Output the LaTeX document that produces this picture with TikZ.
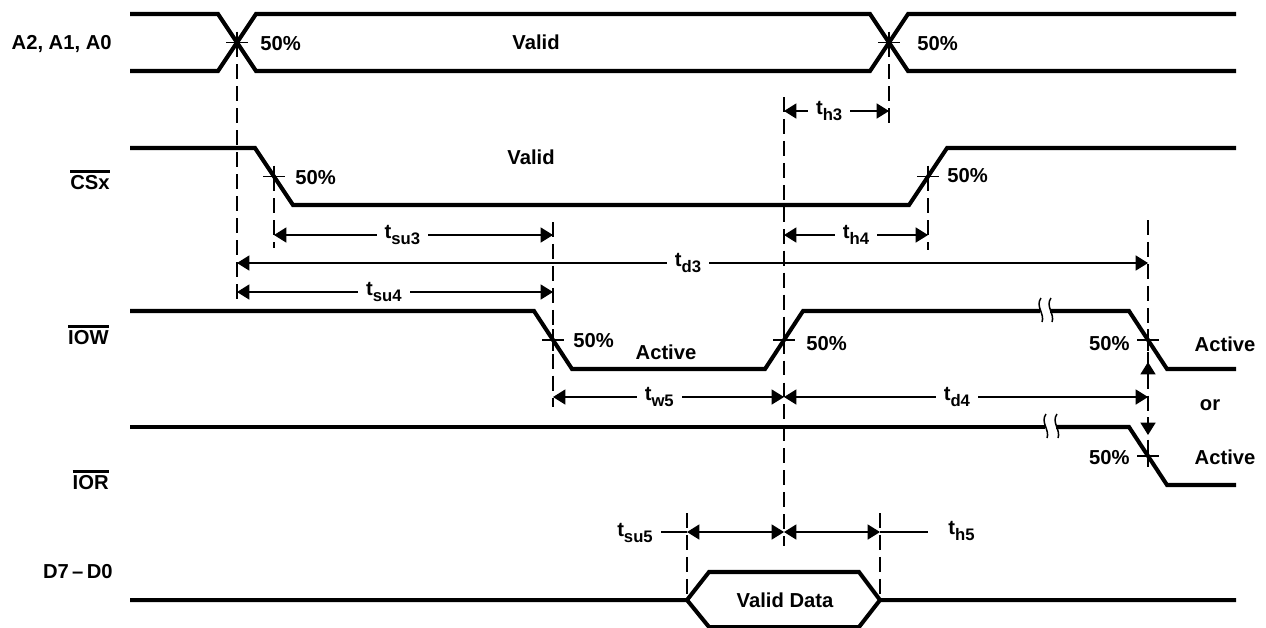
\documentclass[tikz,border=0pt]{standalone}
\usepackage{fontspec}
\setmainfont{Liberation Sans}
\usetikzlibrary{arrows.meta}
\newcommand{\ovbar}[1]{\vbox{\hrule height 1.6pt\kern 1.8pt\hbox{#1}}}
\newcommand{\tlab}[1]{t\raisebox{-3.5pt}{\fontsize{9.5}{11}\selectfont #1}}
\tikzset{
	sig/.style={line width=2.3pt},
	thinline/.style={line width=0.85pt},
	guide/.style={line width=0.85pt,dash pattern=on 8.5pt off 4pt},
	dim/.style={thinline,{Triangle[length=7pt,width=8.5pt]}-{Triangle[length=7pt,width=8.5pt]}},
	arr/.style={thinline,-{Triangle[length=7pt,width=8.5pt]}},
	txt/.style={font=\bfseries\fontsize{11.5}{13}\selectfont,inner sep=0pt},
	dimlbl/.style={txt,fill=white,inner xsep=4.5pt,inner ysep=1pt},
	halfpt/.pic={\draw[thinline] (-11,0) -- (11,0) (0,-11) -- (0,11);},
	brk/.pic={\draw[thinline] (1,-12) .. controls (-5,-4) and (5,4) .. (2,12);}
}
\begin{document}
\begin{tikzpicture}[x=0.02cm,y=-0.02cm]
	\path[use as bounding box,fill=white] (0,0) rectangle (1266,627);
	% signal names
	\node[txt,anchor=east] (nA) at (112,44) {A2, A1, A0};
	\node[txt,anchor=east] (nCS) at (110,180) {\ovbar{CSx}};
	\node[txt,anchor=east] (nIOW) at (109,335) {\ovbar{IOW}};
	\node[txt,anchor=east] (nIOR) at (109,480) {\ovbar{IOR}};
	\node[txt,anchor=east] (nD) at (113,572) {D7\,–\,D0};
	% 50% points
	\coordinate (xa1) at (237,42.5);
	\coordinate (xa2) at (889,42.5);
	\coordinate (cs1) at (274,176.5);
	\coordinate (cs2) at (928,176.5);
	\coordinate (iow1) at (553,340);
	\coordinate (iow2) at (784,340);
	\coordinate (iow3) at (1148,340);
	\coordinate (ior1) at (1148,456);
	\coordinate (d1) at (687,600);
	\coordinate (d2) at (880,600);
	% waveforms
	\draw[sig] (130,14) -- (218,14) -- (256,71) -- (870,71) -- (908,14) -- (1236,14);
	\draw[sig] (130,71) -- (218,71) -- (256,14) -- (870,14) -- (908,71) -- (1236,71);
	\draw[sig] (130,148) -- (255,148) -- (293,205) -- (909,205) -- (947,148) -- (1236,148);
	\draw[sig] (130,311) -- (534,311) -- (572,369) -- (765,369) -- (803,311) -- (1040,311);
	\draw[sig] (1050,311) -- (1129,311) -- (1167,369) -- (1236,369);
	\draw[sig] (130,427) -- (1045,427);
	\draw[sig] (1056,427) -- (1129,427) -- (1167,485) -- (1236,485);
	\draw[sig] (130,600) -- (d1) -- (709,572) -- (859,572) -- (d2) -- (1236,600);
	\draw[sig] (d1) -- (709,627) -- (859,627) -- (d2);
	\pic at (1040,310) {brk};
	\pic at (1050,310) {brk};
	\pic at (1045,426) {brk};
	\pic at (1056,426) {brk};
	% 50% marks
	\foreach \p in {xa1,xa2,cs1,cs2,iow1,iow2,iow3,ior1}
		\pic at (\p) {halfpt};
	% guide lines
	\draw[guide] (xa1) -- (xa1 |- 0,300);
	\draw[guide] (cs1) -- (cs1 |- 0,248);
	\draw[guide] (iow1 |- 0,222) -- (iow1 |- 0,407);
	\draw[guide] (iow2 |- 0,97) -- (iow2 |- 0,546);
	\draw[guide] (xa2) -- (xa2 |- 0,128);
	\draw[guide] (cs2) -- (cs2 |- 0,250);
	\draw[guide] (iow3 |- 0,220) -- (iow3 |- 0,466);
	\draw[guide] (d1 |- 0,513) -- (d1);
	\draw[guide] (d2 |- 0,513) -- (d2);
	% level labels
	\node[txt,anchor=west] (pA1) at (260,44) {50\%};
	\node[txt,anchor=west] (pA2) at (917,44) {50\%};
	\node[txt] (vA) at (536,42) {Valid};
	\node[txt] (vCS) at (531,157) {Valid};
	\node[txt,anchor=west] (pCS1) at (295,178) {50\%};
	\node[txt,anchor=west] (pCS2) at (947,176) {50\%};
	\node[txt,anchor=west] (pW1) at (573,341) {50\%};
	\node[txt] (actW) at (666,352) {Active};
	\node[txt,anchor=west] (pW2) at (806,344) {50\%};
	\node[txt,anchor=east] (pW3) at (1130,344) {50\%};
	\node[txt] (actW2) at (1225,344) {Active};
	\node[txt] (orW) at (1210,405) {or};
	\node[txt,anchor=east] (pR1) at (1130,458) {50\%};
	\node[txt] (actR) at (1225,457) {Active};
	\node[txt] (vD) at (785,600) {Valid Data};
	% timing
	\draw[dim] (iow2 |- 0,111) -- node[dimlbl,pos=0.43] (th3) {\tlab{h3}} (xa2 |- 0,111);
	\draw[dim] (cs1 |- 0,235) -- node[dimlbl,pos=0.46] (tsu3) {\tlab{su3}} (iow1 |- 0,235);
	\draw[dim] (iow2 |- 0,235) -- node[dimlbl,pos=0.5] (th4) {\tlab{h4}} (cs2 |- 0,235);
	\draw[dim] (xa1 |- 0,263) -- node[dimlbl,pos=0.495] (td3) {\tlab{d3}} (iow3 |- 0,263);
	\draw[dim] (xa1 |- 0,292) -- node[dimlbl,pos=0.465] (tsu4) {\tlab{su4}} (iow1 |- 0,292);
	\draw[dim] (iow1 |- 0,397) -- node[dimlbl,pos=0.46] (tw5) {\tlab{w5}} (iow2 |- 0,397);
	\draw[dim] (iow2 |- 0,397) -- node[dimlbl,pos=0.475] (td4) {\tlab{d4}} (iow3 |- 0,397);
	\draw[arr] (iow3 |- 0,380) -- (iow3 |- 0,362);
	\draw[arr] (iow3 |- 0,417) -- (iow3 |- 0,435);
	\node[txt,anchor=east,inner xsep=4.5pt] (tsu5) at (661,533) {\tlab{su5}};
	\node[txt,anchor=west] (th5) at (948,531) {\tlab{h5}};
	\coordinate (h5end) at (928,532);
	\draw[thinline] (tsu5.east |- 0,532) -- (d1 |- 0,532);
	\draw[dim] (d1 |- 0,532) -- (iow2 |- 0,532);
	\draw[dim] (iow2 |- 0,532) -- (d2 |- 0,532);
	\draw[thinline] (d2 |- 0,532) -- (h5end);
\end{tikzpicture}
\end{document}
